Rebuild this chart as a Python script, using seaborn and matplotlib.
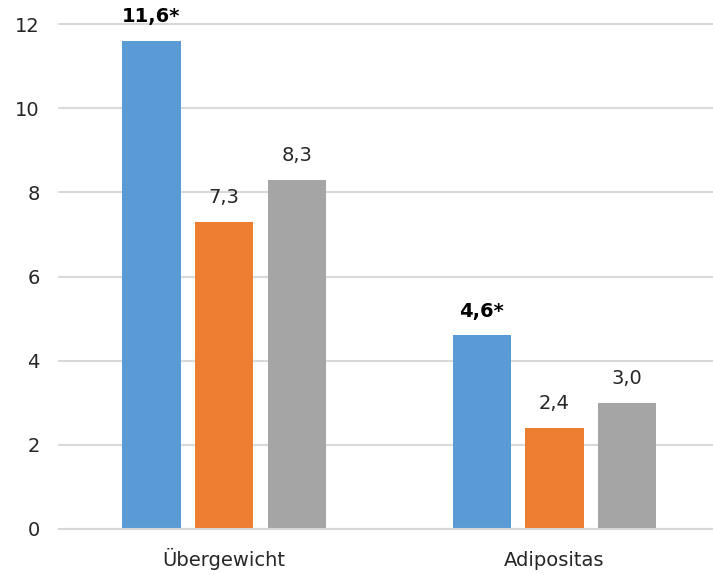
import matplotlib
matplotlib.use("Agg")
import matplotlib.pyplot as plt
import seaborn as sns
import pandas as pd

categories = ["Übergewicht", "Adipositas"]
groups = ["Gruppe 1", "Gruppe 2", "Gruppe 3"]
values_g1 = [11.6, 4.6]
values_g2 = [7.3, 2.4]
values_g3 = [8.3, 3.0]
significant = ["Gruppe 1"]
colors = ["#5B9BD5", "#ED7D31", "#A5A5A5"]
y_ticks = [0, 2, 4, 6, 8, 10, 12]

rows = []
for g, vals in zip(groups, [values_g1, values_g2, values_g3]):
    for c, v in zip(categories, vals):
        rows.append({"Kategorie": c, "Gruppe": g, "Wert": v})
df = pd.DataFrame(rows)

sns.set_style("white")
plt.rcParams["font.family"] = ["DejaVu Sans"]

fig = plt.figure(figsize=(7.13, 5.75), dpi=100)
ax = fig.add_axes([59 / 713, 46 / 575, 1 - 59 / 713, (529 - 24) / 575])

sns.barplot(data=df, x="Kategorie", y="Wert", hue="Gruppe", order=categories,
            hue_order=groups, palette=colors, width=0.66, gap=0.2,
            saturation=1, legend=False, ax=ax, errorbar=None, linewidth=0)

ax.set_ylim(0, 12)
ax.set_xlim(-0.5, 1.48)
ax.set_yticks(y_ticks)
ax.set_yticklabels([str(t) for t in y_ticks])
ax.yaxis.grid(True, color="#D9D9D9", linewidth=1.5)
for gl in ax.get_ygridlines():
    gl.set_clip_on(False)
ax.set_axisbelow(True)
for s in ["top", "right", "left"]:
    ax.spines[s].set_visible(False)
ax.spines["bottom"].set_color("#D9D9D9")
ax.spines["bottom"].set_linewidth(1.5)
ax.tick_params(axis="y", length=0, pad=14, labelsize=14, labelcolor="#262626")
ax.tick_params(axis="x", length=0, pad=26.5, labelsize=14, labelcolor="#262626")
for lbl in ax.get_xticklabels():
    lbl.set_verticalalignment("baseline")
ax.set_xlabel("")
ax.set_ylabel("")

for container, g in zip(ax.containers, groups):
    bold = g in significant
    labels = [f"{v:.1f}".replace(".", ",") + ("*" if bold else "") for v in container.datavalues]
    ax.bar_label(container, labels=labels, padding=10.5, fontsize=14,
                 fontweight="bold" if bold else "normal",
                 color="#000000" if bold else "#262626")

fig.savefig("out.png", dpi=100)
